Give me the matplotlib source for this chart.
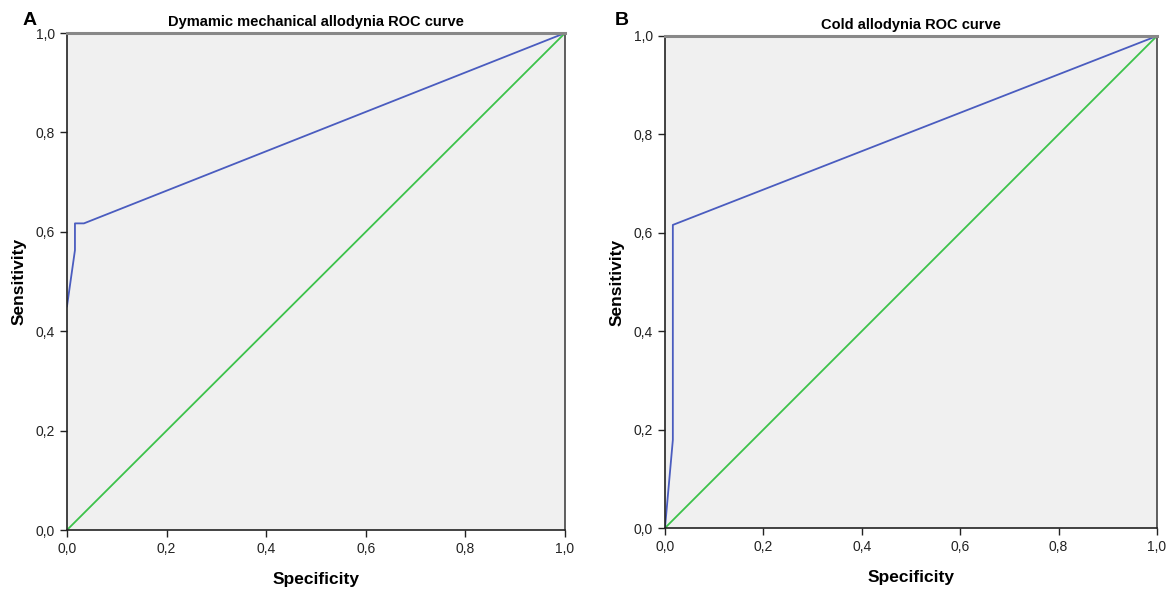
import matplotlib.pyplot as plt
from matplotlib.ticker import FuncFormatter

# ROC curve A (dynamic mechanical allodynia)
a_spec = [0.0, 0.016, 0.016, 0.034, 1.0]
a_sens = [0.45, 0.563, 0.617, 0.617, 1.0]
# ROC curve B (cold allodynia)
b_spec = [0.0, 0.016, 0.016, 1.0]
b_sens = [0.0, 0.179, 0.616, 1.0]
ref = [0.0, 1.0]
ticks = [0.0, 0.2, 0.4, 0.6, 0.8, 1.0]

comma = FuncFormatter(lambda v, p: f"{v:.1f}".replace('.', ','))

fig = plt.figure(figsize=(11.73, 5.93), dpi=100)
plt.rcParams['font.family'] = ['Liberation Sans', 'DejaVu Sans']

panels = [
    ([0.0571, 0.1062, 0.4246, 0.8381], a_spec, a_sens, 'Dymamic mechanical allodynia ROC curve', 'A', 0.0256),
    ([0.5669, 0.1096, 0.4194, 0.8297], b_spec, b_sens, 'Cold allodynia ROC curve', 'B', 0.530),
]

for rect, xs, ys, title, letter, lx in panels:
    ax = fig.add_axes(rect)
    ax.set_facecolor('#f0f0f0')
    ax.plot(ref, ref, color='#3cc24a', lw=1.3)
    ax.plot(xs, ys, color='#4a5cbf', lw=1.3)
    ax.set_xlim(0, 1)
    ax.set_ylim(0, 1)
    ax.set_xticks(ticks)
    ax.set_yticks(ticks)
    ax.xaxis.set_major_formatter(comma)
    ax.yaxis.set_major_formatter(comma)
    ax.tick_params(direction='out', length=5, width=1, labelsize=10, colors='#222222')
    for s in ['left', 'bottom']:
        ax.spines[s].set_color('#222222')
        ax.spines[s].set_linewidth(1.2)
    ax.spines['top'].set_color('#888888')
    ax.spines['top'].set_linewidth(2.2)
    ax.spines['right'].set_color('#444444')
    ax.spines['right'].set_linewidth(1.2)
    ax.set_xlabel('Specificity', fontsize=12.5, fontweight='bold', labelpad=12)
    ax.set_ylabel('Sensitivity', fontsize=12.5, fontweight='bold', labelpad=7)
    ax.set_title(title, fontsize=10.5, fontweight='bold', pad=5)
    fig.text(lx, 0.966, letter, fontsize=14, fontweight='bold', ha='center', va='center')

fig.savefig('out.png', dpi=100)
